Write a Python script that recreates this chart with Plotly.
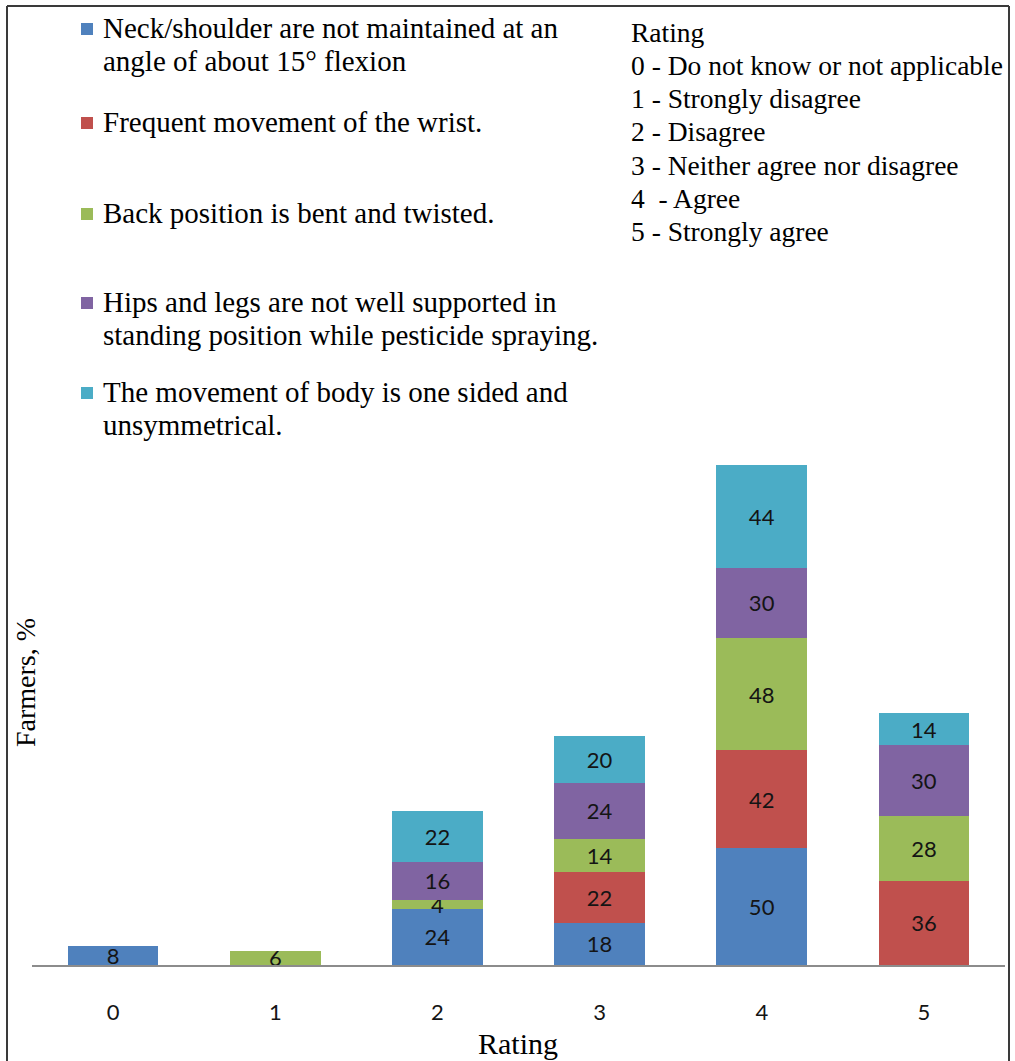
import plotly.graph_objects as go

# Rating categories on the x axis
ratings = ["0", "1", "2", "3", "4", "5"]

# Share of farmers (%) giving each rating, one list per statement
neck_shoulder = [8, 0, 24, 18, 50, 0]
wrist = [0, 0, 0, 22, 42, 36]
back = [0, 6, 4, 14, 48, 28]
hips_legs = [0, 0, 16, 24, 30, 30]
body_movement = [0, 0, 22, 20, 44, 14]

series_names = [
    "Neck/shoulder are not maintained at an<br>angle of about 15° flexion",
    "Frequent movement of the wrist.",
    "Back position is bent and twisted.",
    "Hips and legs are not well supported in<br>standing position while pesticide spraying.",
    "The movement of body is one sided and<br>unsymmetrical.",
]
series_values = [neck_shoulder, wrist, back, hips_legs, body_movement]
series_colors = ["#4F81BD", "#C0504D", "#9BBB59", "#8064A2", "#4BACC6"]

rating_key = [
    "Rating",
    "0 - Do not know or not applicable",
    "1 - Strongly disagree",
    "2 - Disagree",
    "3 - Neither agree nor disagree",
    "4  - Agree",
    "5 - Strongly agree",
]

W, H = 1015, 1061
ML, MR, MT, MB = 32, 10, 415, 96
PW, PH = W - ML - MR, H - MT - MB

SERIF = "Liberation Serif, Times New Roman, serif"
SANS = "Lato, Open Sans, sans-serif"
TEXT_SIZE = 29
KEY_SIZE = 27.5
LINE_STEP = 33.3


def fx(px):
    return (px - ML) / PW


def fy(py):
    return (H - MB - py) / PH


fig = go.Figure()
for name, vals, col in zip(series_names, series_values, series_colors):
    fig.add_trace(go.Bar(
        x=ratings,
        y=vals,
        name=name,
        marker=dict(color=col, line=dict(width=0)),
        text=[str(v) if v else "" for v in vals],
        textposition="inside",
        insidetextanchor="middle",
        textangle=0,
        textfont=dict(family=SANS, size=22, color="#141414"),
        showlegend=False,
    ))

shapes = []
annotations = []


def text_line(s, x, y, size=TEXT_SIZE, **kw):
    annotations.append(dict(
        text=s, xref="paper", yref="paper", x=fx(x), y=fy(y),
        xanchor="left", yanchor="middle", align="left", showarrow=False,
        font=dict(family=SERIF, size=size, color="#000000"), **kw,
    ))


# Frame around the figure (left, top, right edges)
frame = dict(type="line", xref="paper", yref="paper",
             line=dict(color="#3a3a3a", width=2), layer="above")
shapes.append({**frame, "x0": fx(7), "x1": fx(7), "y0": fy(6), "y1": fy(H + 5)})
shapes.append({**frame, "x0": fx(7), "x1": fx(1009), "y0": fy(6), "y1": fy(6)})
shapes.append({**frame, "x0": fx(1009), "x1": fx(1009), "y0": fy(6), "y1": fy(H + 5)})

# Series legend with coloured squares
legend_rows = [28, 122, 213, 302, 392]
for name, col, ry in zip(series_names, series_colors, legend_rows):
    shapes.append(dict(type="rect", xref="paper", yref="paper",
                       x0=fx(81), x1=fx(93), y0=fy(ry - 5), y1=fy(ry + 7),
                       fillcolor=col, line=dict(width=0)))
    for i, part in enumerate(name.split("<br>")):
        text_line(part, 101, ry + i * LINE_STEP)

# Rating scale key
for i, line in enumerate(rating_key):
    text_line(line, 629, 32 + i * LINE_STEP, size=KEY_SIZE)

# Axis titles
annotations.append(dict(
    text="Rating", xref="paper", yref="paper", x=fx(518), y=fy(1043),
    xanchor="center", yanchor="middle", showarrow=False,
    font=dict(family=SERIF, size=30, color="#000000"),
))
annotations.append(dict(
    text="Farmers, %", xref="paper", yref="paper", x=fx(25), y=fy(683),
    xanchor="center", yanchor="middle", textangle=-90, showarrow=False,
    font=dict(family=SERIF, size=28, color="#000000"),
))

fig.update_layout(
    width=W, height=H,
    margin=dict(l=ML, r=MR, t=MT, b=MB, pad=0),
    barmode="stack",
    bargap=0.44,
    plot_bgcolor="white",
    paper_bgcolor="white",
    uniformtext=dict(minsize=22, mode="show"),
    shapes=shapes,
    annotations=annotations,
    xaxis=dict(
        type="category", range=[-0.5, 5.5],
        showline=True, linecolor="#8c8c8c", linewidth=2,
        showgrid=False, ticks="", ticklabelstandoff=27,
        tickfont=dict(family=SANS, size=22, color="#141414"),
    ),
    yaxis=dict(
        range=[0, PH / 2.336], showgrid=False, zeroline=False,
        showline=False, showticklabels=False, ticks="",
    ),
)

fig.write_html("out.html")
